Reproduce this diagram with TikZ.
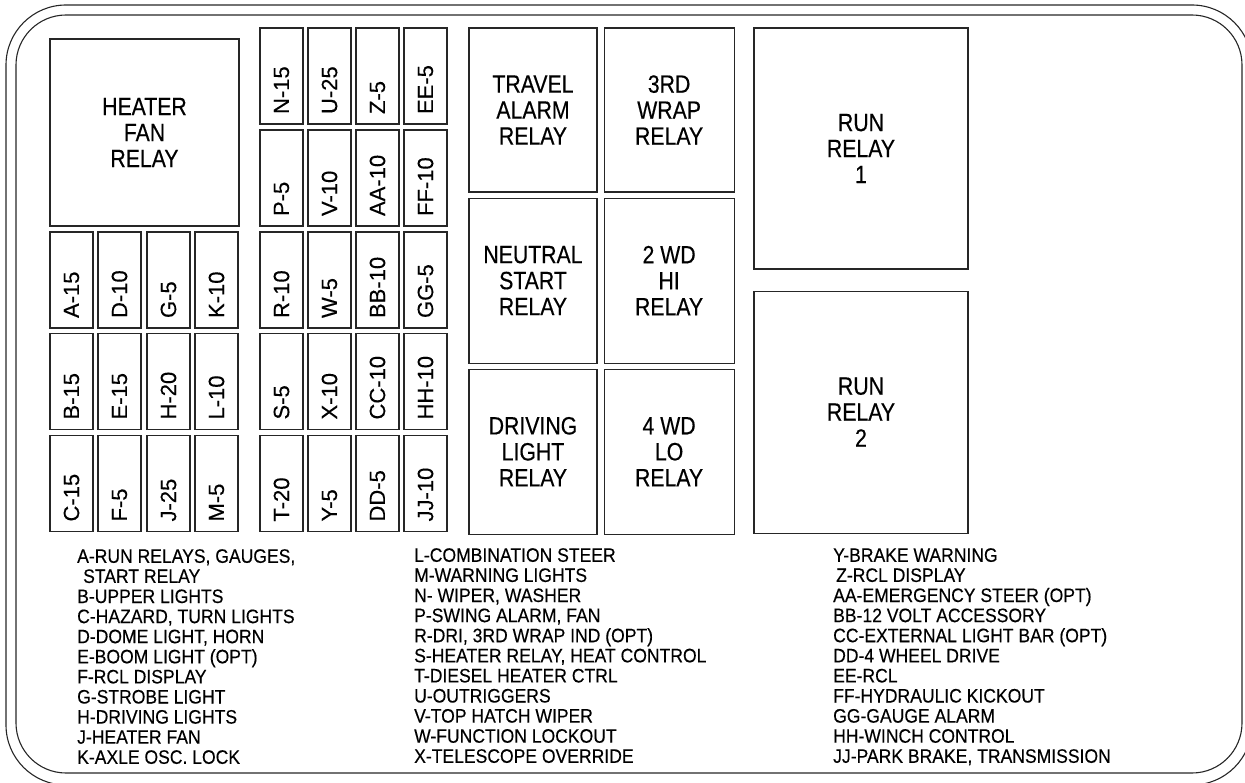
\documentclass[tikz,border=0pt]{standalone}
\usepackage{fontspec}
\setmainfont{Liberation Sans}[FakeBold=0.3]
\newfontfamily\narrowsans{Liberation Sans}[FakeStretch=0.9, FakeBold=0.3]
\newfontfamily\relaysans{Liberation Sans}[FakeStretch=0.85, FakeBold=0.4]
\usepackage{tikz}
\usetikzlibrary{positioning}

\newcommand{\fusefont}{\fontsize{22}{24}\selectfont}
\newcommand{\relayfont}{\relaysans\fontsize{25}{26}\selectfont}
\newcommand{\legendfont}{\narrowsans\fontsize{19.5}{20.1}\selectfont}

\begin{document}
\begin{tikzpicture}[
  x=1pt, y=-1pt,
  node distance=5pt,
  frame/.style={draw=black!85, line width=1.1pt},
  fuse/.style={
    draw=black!85, line width=1.1pt, rotate=90,
    inner sep=0pt, inner xsep=10pt, text width=76pt,
    minimum height=43pt, align=left, font=\fusefont
  },
  relay/.style={
    draw=black!85, line width=1.1pt, inner sep=0pt,
    minimum width=129pt, minimum height=165pt,
    align=center, font=\relayfont
  },
  legend/.style={anchor=north west, inner sep=0pt,
    align=left, font=\legendfont}
]
\clip (0,0) rectangle (1245,783);

% ---- Panel outline (double rounded frame) ----
\draw[frame, rounded corners=60pt] (6,5) rectangle (1252,785);
\draw[frame, rounded corners=50pt] (16,15) rectangle (1242,773);

% ---- Heater fan relay ----
\node[relay, minimum width=189pt, minimum height=187pt]
  (heater) at (144.5,132.5) {HEATER\\FAN\\RELAY};

% ---- Left fuse block ----
\node[fuse] (FA) at (71.5,280)   {A-15};
\node[fuse] (FD) at (119.5,280)  {D-10};
\node[fuse] (FG) at (168.5,280)  {G-5};
\node[fuse] (FK) at (216.5,280)  {K-10};
\node[fuse] (FB) at (71.5,381.5)  {B-15};
\node[fuse] (FE) at (119.5,381.5) {E-15};
\node[fuse] (FH) at (168.5,381.5) {H-20};
\node[fuse] (FL) at (216.5,381.5) {L-10};
\node[fuse] (FC) at (71.5,483.5)  {C-15};
\node[fuse] (FF) at (119.5,483.5) {F-5};
\node[fuse] (FJ) at (168.5,483.5) {J-25};
\node[fuse] (FM) at (216.5,483.5) {M-5};

% ---- Middle fuse block ----
\node[fuse] (FN)  at (281.5,76)  {N-15};
\node[fuse] (FU)  at (329.5,76)  {U-25};
\node[fuse] (FZ)  at (377.5,76)  {Z-5};
\node[fuse] (FEE) at (425.5,76)  {EE-5};
\node[fuse] (FP)  at (281.5,178) {P-5};
\node[fuse] (FV)  at (329.5,178) {V-10};
\node[fuse] (FAA) at (377.5,178) {AA-10};
\node[fuse] (FFF) at (425.5,178) {FF-10};
\node[fuse] (FR)  at (281.5,280) {R-10};
\node[fuse] (FW)  at (329.5,280) {W-5};
\node[fuse] (FBB) at (377.5,280) {BB-10};
\node[fuse] (FGG) at (425.5,280) {GG-5};
\node[fuse] (FS)  at (281.5,381.5) {S-5};
\node[fuse] (FX)  at (329.5,381.5) {X-10};
\node[fuse] (FCC) at (377.5,381.5) {CC-10};
\node[fuse] (FHH) at (425.5,381.5) {HH-10};
\node[fuse] (FT)  at (281.5,483.5) {T-20};
\node[fuse] (FY)  at (329.5,483.5) {Y-5};
\node[fuse] (FDD) at (377.5,483.5) {DD-5};
\node[fuse] (FJJ) at (425.5,483.5) {JJ-10};

% ---- Relay columns ----
\node[relay, minimum width=128pt, minimum height=164pt]
  (travel) at (533,110) {TRAVEL\\ALARM\\RELAY};
\node[relay, minimum width=128pt, below=of travel]
  (neutral) {NEUTRAL\\START\\RELAY};
\node[relay, minimum width=128pt, below=of neutral]
  (driving) {DRIVING\\LIGHT\\RELAY};

\node[relay, minimum width=130pt, minimum height=164pt,
      right=6pt of travel] (wrap) {3RD\\WRAP\\RELAY};
\node[relay, minimum width=130pt, below=of wrap]
  (hiwd) {2 WD\\HI\\RELAY};
\node[relay, minimum width=130pt, below=of hiwd]
  (lowd) {4 WD\\LO\\RELAY};

% ---- Run relays ----
\node[relay, minimum width=214pt, minimum height=241pt]
  (run1) at (861,148.5) {RUN\\RELAY\\1};
\node[relay, minimum width=214pt, minimum height=242pt,
      below=21pt of run1] (run2) {RUN\\RELAY\\2};

% ---- Fuse legend ----
\node[legend] (legA) at (77,549) {%
  A-RUN RELAYS, GAUGES,\\
  \hspace*{6pt}START RELAY\\
  B-UPPER LIGHTS\\
  C-HAZARD, TURN LIGHTS\\
  D-DOME LIGHT, HORN\\
  E-BOOM LIGHT (OPT)\\
  F-RCL DISPLAY\\
  G-STROBE LIGHT\\
  H-DRIVING LIGHTS\\
  J-HEATER FAN\\
  K-AXLE OSC. LOCK};

\node[legend] (legL) at (414,548) {%
  L-COMBINATION STEER\\
  M-WARNING LIGHTS\\
  N- WIPER, WASHER\\
  P-SWING ALARM, FAN\\
  R-DRI, 3RD WRAP IND (OPT)\\
  S-HEATER RELAY, HEAT CONTROL\\
  T-DIESEL HEATER CTRL\\
  U-OUTRIGGERS\\
  V-TOP HATCH WIPER\\
  W-FUNCTION LOCKOUT\\
  X-TELESCOPE OVERRIDE};

\node[legend] (legY) at (833,548) {%
  Y-BRAKE WARNING\\
  \hspace*{3pt}Z-RCL DISPLAY\\
  AA-EMERGENCY STEER (OPT)\\
  BB-12 VOLT ACCESSORY\\
  CC-EXTERNAL LIGHT BAR (OPT)\\
  DD-4 WHEEL DRIVE\\
  EE-RCL\\
  FF-HYDRAULIC KICKOUT\\
  GG-GAUGE ALARM\\
  HH-WINCH CONTROL\\
  JJ-PARK BRAKE, TRANSMISSION};

\end{tikzpicture}
\end{document}
